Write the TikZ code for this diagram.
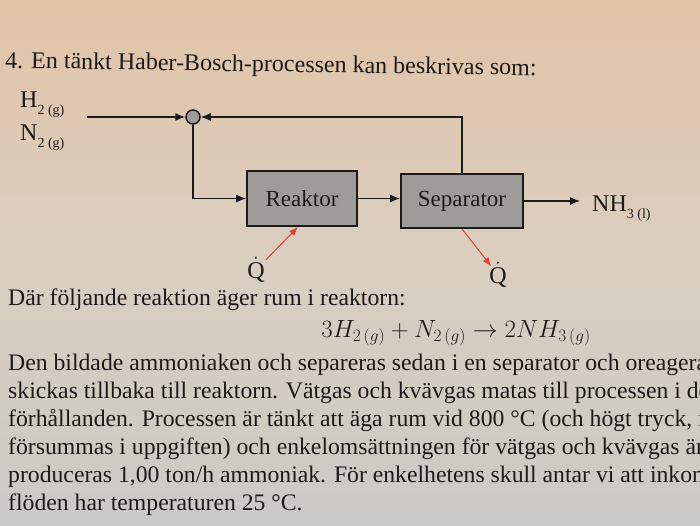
\documentclass[tikz,border=0pt]{standalone}
\usepackage{fontspec}
\setmainfont{Liberation Serif}
\setmathrm{Liberation Serif}
\usetikzlibrary{arrows.meta,calc}
\definecolor{ink}{RGB}{28,26,26}
\definecolor{boxgray}{RGB}{158,156,153}
\definecolor{heatred}{RGB}{226,62,50}
\definecolor{bgtop}{RGB}{226,196,168}
\definecolor{bgmid}{RGB}{218,206,192}
\definecolor{bgbot}{RGB}{202,202,198}
\newcommand{\qdot}{$\dot{\mathrm{Q}}$}
\newcommand{\chemsub}[1]{\raisebox{-0.3em}{\fontsize{14}{14}\selectfont #1}}
\begin{document}
\begin{tikzpicture}[x=1pt,y=-1pt,
  unitbox/.style={draw=ink, line width=1.8pt, fill=boxgray, minimum width=110pt, minimum height=55pt, inner sep=0pt, font=\fontsize{23}{24}\selectfont, text=ink},
  flow/.style={draw=ink, line width=1.2pt, -{Latex[length=10pt,width=8pt]}},
  heat/.style={draw=heatred, line width=1pt, -{Latex[length=9pt,width=7pt]}},
  lbl/.style={text=ink, inner sep=0pt, font=\fontsize{24}{26}\selectfont},
  body/.style={text=ink, inner sep=0pt, anchor=base west, font=\fontsize{23.7}{28}\selectfont},
]
\useasboundingbox (0,0) rectangle (700,525);
\clip (0,0) rectangle (700,525);
\shade[top color=bgtop, bottom color=bgbot, middle color=bgmid] (0,0) rectangle (700,525);

\node[lbl, anchor=base west, rotate=-0.8] (title) at (5,68) {4. En tänkt Haber-Bosch-processen kan beskrivas som:};

\node[lbl, anchor=base west] (h2) at (20,107) {H\chemsub{2 (g)}};
\node[lbl, anchor=base west] (n2) at (20,140) {N\chemsub{2 (g)}};

\node[unitbox] (reak) at (302,198.5) {Reaktor};
\node[unitbox, minimum width=122pt, minimum height=54pt] (sep) at (462,201) {Separator};
\node[circle, draw=ink, line width=1.5pt, fill=boxgray, minimum size=14pt, inner sep=0pt] (mix) at (193,117) {};
\coordinate (feed) at (87,117);
\node[lbl, anchor=base west] (nh3) at (592,211) {NH\chemsub{3 (l)}};

\draw[flow] (feed) -- (mix.west);
\draw[flow] (sep.north) |- (mix.east);
\draw[flow] (mix.south) |- (reak.west);
\draw[flow] (reak.east) -- (reak.east -| sep.west);
\draw[flow, shorten >=12pt] (sep.east) -- (sep.east -| nh3.west);

\node[lbl] (q1) at (256,270) {\qdot};
\node[lbl] (q2) at (498,275) {\qdot};
\draw[heat, shorten <=14pt] (q1.center) -- ($(reak.south)+(-4,0)$);
\draw[heat, shorten >=11pt] (sep.south) -- (q2.center);

\node[body] (l0) at (8,305) {Där följande reaktion äger rum i reaktorn:};
\node[text=ink, inner sep=0pt, anchor=base, font=\fontsize{23}{23}\selectfont] (eq) at (456,337) {$3H_{2\,(g)} + N_{2\,(g)} \rightarrow 2NH_{3\,(g)}$};
\node[body] (l1) at (8,370) {Den bildade ammoniaken och separeras sedan i en separator och oreagerad};
\node[body] (l2) at (8,398) {skickas tillbaka till reaktorn. Vätgas och kvävgas matas till processen i den};
\node[body] (l3) at (8,426) {förhållanden. Processen är tänkt att äga rum vid 800 °C (och högt tryck, m};
\node[body] (l4) at (8,454) {försummas i uppgiften) och enkelomsättningen för vätgas och kvävgas är 5};
\node[body] (l5) at (8,482) {produceras 1,00 ton/h ammoniak. För enkelhetens skull antar vi att inkomm};
\node[body] (l6) at (8,510) {flöden har temperaturen 25 °C.};
\end{tikzpicture}
\end{document}
